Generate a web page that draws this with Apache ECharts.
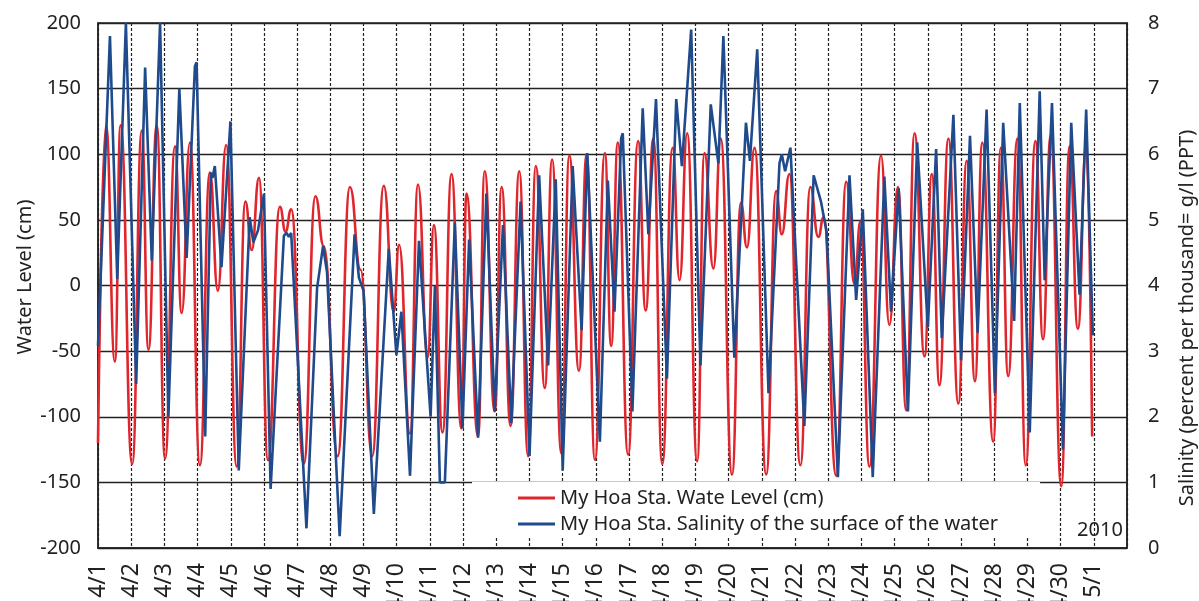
<!DOCTYPE html>
<html>
<head>
<meta charset="utf-8">
<title>My Hoa Station - Water Level and Salinity, April 2010</title>
<script src="https://cdn.jsdelivr.net/npm/echarts@6/dist/echarts.min.js"></script>
<style>
  html, body { margin: 0; padding: 0; background: #ffffff; }
  #chart { width: 1199px; height: 601px; }
</style>
</head>
<body>
<div id="chart"></div>
<script>
// Day labels along the time axis (day 0 = 4/1)
const dayLabels = ['4/1','4/2','4/3','4/4','4/5','4/6','4/7','4/8','4/9','4/10',
  '4/11','4/12','4/13','4/14','4/15','4/16','4/17','4/18','4/19','4/20',
  '4/21','4/22','4/23','4/24','4/25','4/26','4/27','4/28','4/29','4/30','5/1'];

// Water level turning points: time in days since 4/1 00:00, level in cm
const levelTime = [0.00,0.24,0.51,0.68,1.03,1.32,1.52,1.77,2.02,2.32,2.52,2.77,3.07,3.37,3.61,3.86,
  4.18,4.44,4.63,4.85,5.12,5.48,5.65,5.82,6.20,6.55,6.80,7.22,7.59,7.91,8.26,8.61,8.91,9.07,
  9.40,9.64,9.93,10.12,10.38,10.65,10.95,11.10,11.45,11.65,11.95,12.16,12.43,12.69,12.96,13.19,
  13.46,13.68,13.96,14.20,14.49,14.72,14.97,15.27,15.46,15.66,15.97,16.27,16.50,16.73,17.00,
  17.31,17.52,17.75,18.05,18.27,18.54,18.76,19.10,19.37,19.55,19.78,20.13,20.43,20.60,20.83,
  21.16,21.46,21.70,21.86,22.24,22.54,22.79,22.97,23.24,23.59,23.84,24.10,24.35,24.60,24.90,
  25.12,25.35,25.62,25.92,26.17,26.42,26.64,26.97,27.20,27.42,27.70,27.95,28.24,28.47,28.70,
  29.02,29.27,29.52,29.77,29.95];
const levelCm = [-120,122,-58,122,-136,118,-49,122,-132,106,-21,109,-137,86,-4,107,
  -138,64,27,82,-133,60,41,58,-136,68,30,-130,75,12,-130,76,-20,31,
  -113,77,-55,46,-112,85,-109,70,-115,87,-96,75,-107,87,-130,91,
  -78,96,-128,99,-65,100,-133,101,-46,109,-129,110,-19,112,-136,
  105,4,116,-134,101,13,112,-144,63,29,105,-144,72,39,85,
  -137,75,37,52,-145,79,1,49,-138,99,-30,75,-95,116,-54,
  85,-76,112,-90,95,-73,109,-119,105,-69,112,-137,110,-41,114,
  -153,106,-33,106,-115];

// Surface salinity readings: time in days since 4/1 00:00, salinity in g/l (PPT)
const salinityTime = [0.00,0.36,0.58,0.84,1.15,1.42,1.62,1.87,2.12,2.45,2.67,2.92,2.97,3.23,3.40,3.45,
  3.52,3.72,3.99,4.24,4.57,4.68,4.82,5.00,5.20,5.60,5.68,5.75,5.82,6.28,6.60,6.78,6.90,7.28,
  7.73,7.86,8.00,8.31,8.76,8.99,9.14,9.40,9.67,10.02,10.15,10.30,10.45,10.75,10.98,11.18,11.45,
  11.70,11.95,12.20,12.45,12.73,13.00,13.29,13.56,13.79,14.00,14.30,14.57,14.74,15.12,15.36,
  15.56,15.76,15.81,16.10,16.41,16.58,16.81,17.14,17.42,17.59,17.87,18.15,18.46,18.69,18.84,
  19.17,19.52,19.64,19.86,20.20,20.53,20.60,20.70,20.86,21.28,21.56,21.78,21.95,22.29,22.64,
  22.84,23.04,23.34,23.69,23.89,24.12,24.40,24.68,25.00,25.25,25.42,25.77,26.00,26.27,26.50,
  26.77,27.02,27.27,27.60,27.77,28.07,28.37,28.52,28.74,29.07,29.32,29.57,29.77,29.97];
const salinityPpt = [3.08,7.80,4.10,8.00,2.50,7.32,4.38,8.00,2.00,7.00,4.42,7.34,7.40,1.70,5.72,5.64,
  5.82,4.28,6.50,1.18,5.04,4.66,4.84,5.40,0.90,4.76,4.80,4.74,4.80,0.30,3.96,4.60,4.20,0.18,
  4.78,4.12,3.92,0.52,4.56,2.94,3.60,1.10,4.68,2.00,4.00,1.00,1.00,4.96,1.82,4.70,1.68,
  5.40,2.08,4.92,1.90,5.28,1.40,5.68,2.78,5.62,1.18,5.82,3.32,6.02,1.62,5.60,
  3.60,6.24,6.32,2.08,6.70,4.78,6.84,2.58,6.84,5.82,7.90,2.78,6.76,5.86,7.80,
  2.90,6.48,5.90,7.60,2.36,5.86,6.00,5.74,6.10,1.86,5.68,5.28,4.82,1.08,5.68,
  3.78,5.16,1.08,5.66,3.60,5.48,2.08,6.18,3.36,6.08,3.20,6.60,2.86,6.28,3.28,
  6.68,2.36,6.48,3.46,6.78,1.76,6.96,4.08,6.78,1.50,6.48,3.86,6.68,3.24];

const seriesNames = ['My Hoa Sta. Wate Level (cm)', 'My Hoa Sta. Salinity of the surface of the water'];
const yearText = '2010';

const FONT = 'Noto Sans';
const INK = '#222222';

const chart = echarts.init(document.getElementById('chart'), null, { renderer: 'canvas' });

chart.setOption({
  animation: false,
  backgroundColor: '#ffffff',
  grid: {
    left: 98, right: 72, top: 23, bottom: 53,
    containLabel: false, outerBoundsMode: 'none',
    show: true, borderColor: INK, borderWidth: 1.5, backgroundColor: 'transparent'
  },
  xAxis: {
    type: 'value', min: 0, max: 31, interval: 1,
    axisLine: { show: true, onZero: false, lineStyle: { color: INK, width: 1.5 } },
    axisTick: { show: false },
    axisLabel: {
      rotate: 90, margin: 15, fontSize: 23, fontFamily: FONT, color: INK,
      formatter: v => (dayLabels[v] !== undefined ? dayLabels[v] : '')
    },
    splitLine: { show: true, lineStyle: { type: [3, 2], color: INK, width: 1.2 } }
  },
  yAxis: [
    {
      type: 'value', min: -200, max: 200, interval: 50,
      axisLine: { show: true, onZero: false, lineStyle: { color: INK, width: 1.5 } },
      axisTick: { show: false },
      axisLabel: { margin: 17, fontSize: 20, fontFamily: FONT, color: INK },
      splitLine: { show: true, lineStyle: { color: INK, width: 1.3 } }
    },
    {
      type: 'value', min: 0, max: 8, interval: 1, position: 'right',
      axisLine: { show: true, onZero: false, lineStyle: { color: INK, width: 1.5 } },
      axisTick: { show: false },
      axisLabel: { margin: 21, fontSize: 20, fontFamily: FONT, color: INK },
      splitLine: { show: false }
    }
  ],
  legend: {
    orient: 'vertical', left: 472, top: 482, align: 'left',
    padding: [6, 42, 4, 46], itemGap: 6, itemWidth: 37, itemHeight: 3,
    icon: 'rect', backgroundColor: '#ffffff', selectedMode: false,
    textStyle: { fontSize: 20, fontFamily: FONT, color: INK, lineHeight: 20 },
    data: seriesNames
  },
  series: [
    {
      name: seriesNames[0], type: 'line', yAxisIndex: 0,
      data: levelTime.map((t, i) => [t, levelCm[i]]),
      showSymbol: false, smooth: 0.5, smoothMonotone: 'x',
      lineStyle: { color: '#e0262d', width: 2.6 }, itemStyle: { color: '#e0262d' }
    },
    {
      name: seriesNames[1], type: 'line', yAxisIndex: 1,
      data: salinityTime.map((t, i) => [t, salinityPpt[i]]),
      showSymbol: false, smooth: false,
      lineStyle: { color: '#1f4a8c', width: 2.6 }, itemStyle: { color: '#1f4a8c' }
    }
  ],
  graphic: [
    {
      type: 'text', x: 25, y: 277, rotation: Math.PI / 2, z: 10,
      style: { text: 'Water Level (cm)', fontSize: 20, fontFamily: FONT, fill: INK,
               align: 'center', verticalAlign: 'middle' }
    },
    {
      type: 'text', x: 1187, y: 318, rotation: Math.PI / 2, z: 10,
      style: { text: 'Salinity (percent per thousand= g/l (PPT)', fontSize: 20, fontFamily: FONT, fill: INK,
               align: 'center', verticalAlign: 'middle' }
    },
    {
      type: 'text', x: 1100, y: 530, z: 10,
      style: { text: yearText, fontSize: 20, fontFamily: FONT, fill: INK,
               align: 'center', verticalAlign: 'middle' }
    }
  ]
});
</script>
</body>
</html>
